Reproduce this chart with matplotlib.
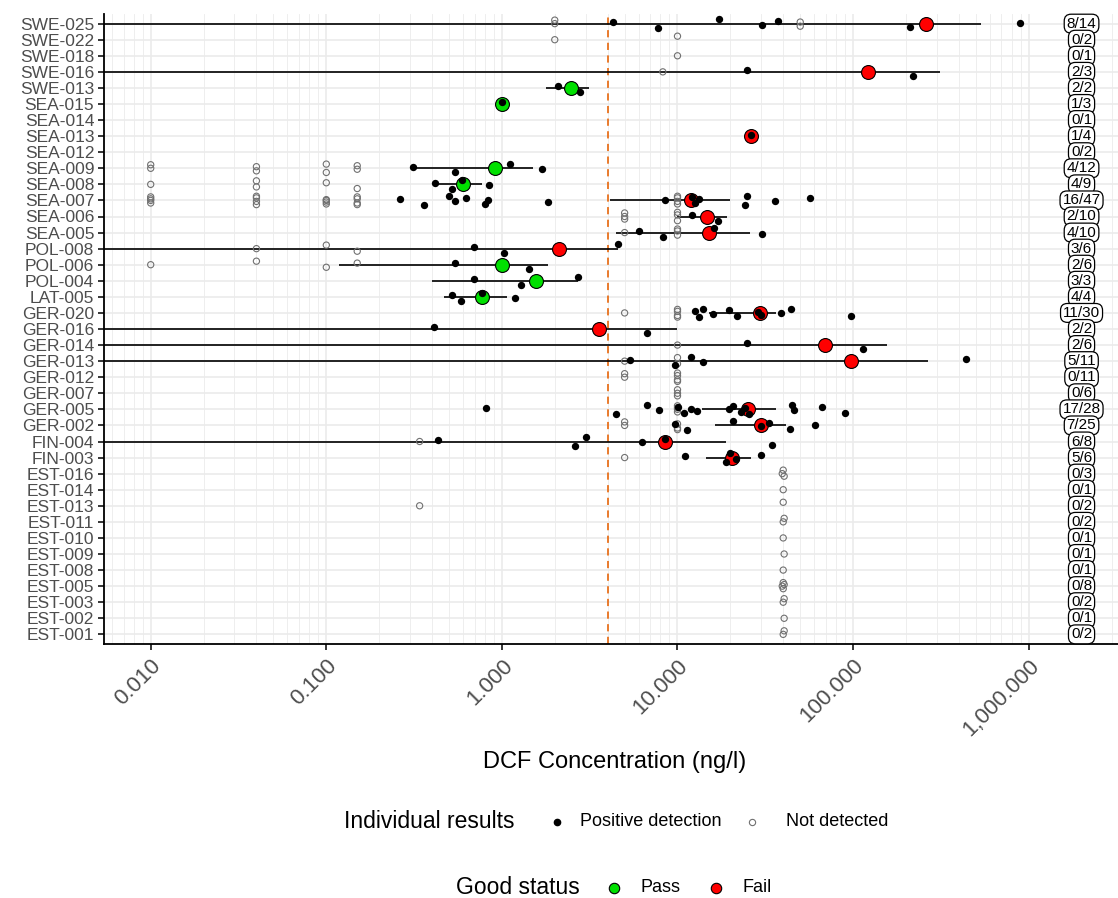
import numpy as np
import matplotlib
matplotlib.use("Agg")
import matplotlib.pyplot as plt
from matplotlib.lines import Line2D
from matplotlib.ticker import LogLocator, NullFormatter

plt.rcParams["font.family"] = ["Liberation Sans", "DejaVu Sans"]

# sites, top to bottom
sites = ["SWE-025", "SWE-022", "SWE-018", "SWE-016", "SWE-013",
         "SEA-015", "SEA-014", "SEA-013", "SEA-012", "SEA-009", "SEA-008",
         "SEA-007", "SEA-006", "SEA-005", "POL-008", "POL-006", "POL-004",
         "LAT-005", "GER-020", "GER-016", "GER-014", "GER-013", "GER-012",
         "GER-007", "GER-005", "GER-002", "FIN-004", "FIN-003",
         "EST-016", "EST-014", "EST-013", "EST-011", "EST-010", "EST-009",
         "EST-008", "EST-005", "EST-003", "EST-002", "EST-001"]

n_detected = [8, 0, 0, 2, 2, 1, 0, 1, 0, 4, 4, 16, 2, 4, 3, 2, 3, 4, 11, 2, 2, 5,
              0, 0, 17, 7, 6, 5, 0, 0, 0, 0, 0, 0, 0, 0, 0, 0, 0]
n_samples = [14, 2, 1, 3, 2, 3, 1, 4, 2, 12, 9, 47, 10, 10, 6, 6, 3, 4, 30, 2, 6, 11,
             11, 6, 28, 25, 8, 6, 3, 1, 2, 2, 1, 1, 1, 8, 2, 1, 2]

# individual results (ng/l)
positives = {
    "SWE-025": [4.3, 7.7, 17.3, 30.2, 37.6, 210, 896],
    "SWE-016": [24.9, 219],
    "SWE-013": [2.10, 2.80],
    "SEA-015": [1.0],
    "SEA-013": [26.2],
    "SEA-009": [0.31, 0.54, 1.11, 1.69],
    "SEA-008": [0.416, 0.518, 0.59, 0.848],
    "SEA-007": [0.264, 0.362, 0.50, 0.538, 0.626, 0.797, 0.835, 1.84,
                8.44, 12.1, 12.6, 13.2, 24.1, 25.0, 35.8, 56.7],
    "SEA-006": [12.1, 17.1],
    "SEA-005": [6.02, 8.32, 16.1, 30.1],
    "POL-008": [0.697, 1.03, 4.61],
    "POL-006": [0.54, 1.42],
    "POL-004": [0.697, 1.28, 2.70],
    "LAT-005": [0.518, 0.582, 0.771, 1.19],
    "GER-020": [12.6, 13.2, 13.95, 16.0, 19.7, 21.7, 28.6, 30.0, 39.1, 44.1, 96.9],
    "GER-016": [0.41, 6.69],
    "GER-014": [24.9, 114],
    "GER-013": [5.38, 9.66, 11.95, 14.0, 442],
    "GER-005": [0.816, 4.48, 6.69, 7.81, 10.1, 10.9, 11.95, 12.85, 19.7, 20.6,
                23.0, 24.1, 25.5, 44.8, 46.3, 66.8, 89.4],
    "GER-002": [9.66, 11.3, 20.6, 29.7, 33.4, 43.9, 60.7],
    "FIN-004": [0.43, 2.61, 3.02, 6.29, 8.44, 34.6],
    "FIN-003": [11.0, 18.9, 19.9, 21.4, 30.0],
}

not_detected = {
    "SWE-025": [2, 2, 50, 50],
    "SWE-022": [2, 10],
    "SWE-018": [10],
    "SWE-016": [8.25],
    "SEA-009": [0.01, 0.01, 0.04, 0.04, 0.1, 0.1, 0.15, 0.15],
    "SEA-008": [0.01, 0.04, 0.04, 0.1, 0.15],
    "SEA-007": [0.01, 0.01, 0.01, 0.01, 0.04, 0.04, 0.04, 0.04,
                0.1, 0.1, 0.1, 0.1, 0.15, 0.15, 0.15, 0.15, 10, 10, 10, 10],
    "SEA-006": [5, 5, 5, 10, 10, 10],
    "SEA-005": [5, 10, 10, 10],
    "POL-008": [0.04, 0.1, 0.15],
    "POL-006": [0.01, 0.04, 0.1, 0.15],
    "GER-020": [5, 10, 10, 10, 10],
    "GER-014": [10],
    "GER-013": [5, 10, 10],
    "GER-012": [5, 5, 10, 10, 10, 10],
    "GER-007": [10, 10, 10],
    "GER-005": [10, 10, 10, 10],
    "GER-002": [5, 5, 10, 10, 10],
    "FIN-004": [0.34],
    "FIN-003": [5],
    "EST-016": [39.5, 40, 40.5],
    "EST-014": [40],
    "EST-013": [0.34, 40],
    "EST-011": [40, 40.5],
    "EST-010": [40],
    "EST-009": [40.5],
    "EST-008": [40],
    "EST-005": [39.5, 40, 40, 40.5],
    "EST-003": [40, 40.5],
    "EST-002": [40.5],
    "EST-001": [40, 40.5],
}

# site summary: estimate with interval (low 0 = open ended)
summary_sites = ["SWE-025", "SWE-016", "SWE-013", "SEA-015", "SEA-013", "SEA-009",
                 "SEA-008", "SEA-007", "SEA-006", "SEA-005", "POL-008", "POL-006",
                 "POL-004", "LAT-005", "GER-020", "GER-016", "GER-014", "GER-013",
                 "GER-005", "GER-002", "FIN-004", "FIN-003"]
summary_est = [261, 122, 2.46, 1.0, 26.2, 0.91, 0.597, 11.9, 14.65, 15.2, 2.12, 0.995,
               1.56, 0.771, 29.5, 3.57, 69.0, 96.9, 25.3, 30.0, 8.44, 20.4]
summary_low = [0, 0, 1.78, 1.0, 26.2, 0.31, 0.416, 4.13, 10.0, 4.48, 0, 0.1175,
               0.40, 0.467, 15.1, 0, 0, 0, 13.8, 16.4, 0, 14.5]
summary_high = [536, 313, 3.12, 1.0, 26.2, 1.51, 0.771, 19.9, 19.2, 25.9, 4.61, 1.84,
                2.70, 1.065, 36.3, 10.0, 155, 266, 36.3, 41.6, 18.9, 26.2]
summary_pass = [False, False, True, True, False, True, True, False, False, False,
                False, True, True, True, False, False, False, False, False, False,
                False, False]

threshold = 4.0
xticks = [0.01, 0.1, 1, 10, 100, 1000]
xtick_labels = ["0.010", "0.100", "1.000", "10.000", "100.000", "1,000.000"]
label_x = 2000

W, H = 1118, 898
fig = plt.figure(figsize=(W / 100, H / 100), dpi=100)
ax = fig.add_axes([104 / W, 1 - 644 / H, 1 - 104 / W, (644 - 14) / H])
ax.set_xscale("log")
xmin, xmax = 0.00542, 3226
ax.set_xlim(xmin, xmax)
ax.set_ylim(0.4, len(sites) + 0.6)

ypos = {s: len(sites) - i for i, s in enumerate(sites)}
jit = [0.0, 0.22, -0.16, 0.1, -0.26, 0.26, -0.06, 0.16, -0.22, 0.05, -0.1]

ax.axvline(threshold, color="#E8711C", lw=1.3, ls=(0, (4, 3)), zorder=2)

# intervals and summary points
for s, est, lo, hi, ok in zip(summary_sites, summary_est, summary_low,
                              summary_high, summary_pass):
    y = ypos[s]
    ax.plot([max(lo, xmin), hi], [y, y], color="black", lw=1.2, zorder=3,
            solid_capstyle="butt")
    ax.scatter([est], [y], s=100, color="#00E000" if ok else "#FF0000",
               edgecolor="black", linewidth=0.8, zorder=4)

# individual results
for s, vals in not_detected.items():
    y = ypos[s]
    ys = [y + jit[i % len(jit)] for i in range(len(vals))]
    ax.scatter(vals, ys, s=20, facecolor="none", edgecolor="#707070",
               linewidth=0.8, zorder=5)
for s, vals in positives.items():
    y = ypos[s]
    ys = [y + jit[(i + 3) % len(jit)] for i in range(len(vals))]
    ax.scatter(vals, ys, s=28, color="black", linewidth=0, zorder=6)

# n/N labels
for s, d, n in zip(sites, n_detected, n_samples):
    ax.text(label_x, ypos[s], f"{d}/{n}", ha="center", va="center", fontsize=11,
            zorder=7,
            bbox=dict(boxstyle="round,pad=0.16,rounding_size=0.45", fc="white",
                      ec="black", lw=0.9))

ax.set_yticks([ypos[s] for s in sites])
ax.set_yticklabels(sites)
ax.set_xticks(xticks)
ax.set_xticklabels(xtick_labels, rotation=45, ha="right", rotation_mode="anchor")
ax.xaxis.set_minor_locator(LogLocator(base=10, subs=np.arange(2, 10)))
ax.xaxis.set_minor_formatter(NullFormatter())
ax.tick_params(axis="x", which="minor", length=0)
ax.tick_params(axis="both", which="major", length=4, width=1.1, color="black",
               labelcolor="#4D4D4D")
ax.tick_params(axis="y", labelsize=12.5, pad=3)
ax.tick_params(axis="x", labelsize=16, pad=4)

ax.grid(which="major", color="#EBEBEB", lw=1.2)
ax.grid(which="minor", axis="x", color="#EBEBEB", lw=0.6)
ax.set_axisbelow(True)
for side in ["top", "right"]:
    ax.spines[side].set_visible(False)
for side in ["left", "bottom"]:
    ax.spines[side].set_linewidth(1.3)

fig.text(615 / W, 1 - 762 / H, "DCF Concentration (ng/l)", ha="center",
         va="center", fontsize=17)


# legends: title, then marker + label per key
def legend_row(y_px, title, title_right, keys):
    y = 1 - y_px / H
    fig.text(title_right / W, y, title, ha="right", va="center", fontsize=16.5)
    for mx, tx, label, style in keys:
        fig.add_artist(Line2D([mx / W], [y], transform=fig.transFigure,
                              ls="none", marker="o", **style))
        fig.text(tx / W, y, label, ha="left", va="center", fontsize=13)


legend_row(822, "Individual results", 515, [
    (557, 580, "Positive detection", dict(ms=4.5, color="black")),
    (752, 786, "Not detected", dict(ms=4.5, mfc="none", mec="#707070", mew=0.8)),
])
legend_row(888, "Good status", 580, [
    (614, 641, "Pass", dict(ms=7.5, mfc="#00E000", mec="black", mew=0.8)),
    (716, 742, "Fail", dict(ms=7.5, mfc="#FF0000", mec="black", mew=0.8)),
])

fig.savefig("out.png", dpi=100)
